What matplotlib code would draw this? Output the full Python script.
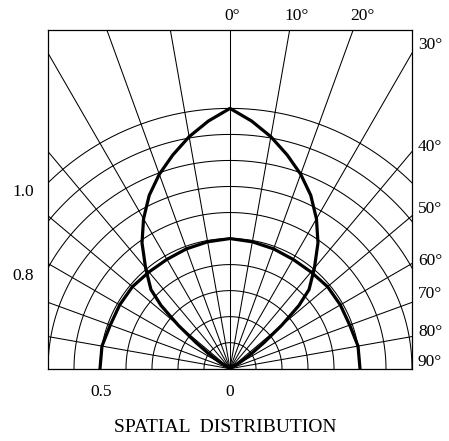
import numpy as np
import matplotlib
matplotlib.use("Agg")
import matplotlib.pyplot as plt

plt.rcParams['font.family'] = ['Liberation Serif', 'DejaVu Serif']

# narrow beam (relative intensity vs angle in degrees)
narrow_deg = [0, 5, 10, 15, 20, 25, 30, 35, 40, 45, 47.5, 50, 52.5, 55, 57.5, 60]
narrow_val = [1.0, 0.955, 0.905, 0.85, 0.795, 0.735, 0.665, 0.59, 0.505, 0.43,
              0.36, 0.26, 0.165, 0.10, 0.05, 0.0]

# wide beam
wide_deg = [0, 10, 20, 30, 40, 50, 60, 70, 80, 90]
wide_val = [0.50, 0.495, 0.49, 0.485, 0.485, 0.49, 0.49, 0.49, 0.50, 0.50]

ring_vals = [0.1, 0.2, 0.3, 0.4, 0.5, 0.6, 0.7, 0.8, 0.9, 1.0]
spoke_deg = list(range(-90, 91, 10))

top_labels = ["0°", "10°", "20°"]
right_labels = ["30°", "40°", "50°", "60°", "70°", "80°", "90°"]


def to_xy(deg, r):
    t = np.radians(np.asarray(deg, dtype=float))
    r = np.asarray(r, dtype=float)
    return r * np.sin(t), r * np.cos(t)


W, H = 449, 441
fig = plt.figure(figsize=(W / 100, H / 100), dpi=100)
ax = fig.add_axes([48 / W, (H - 368.7) / H, 364 / W, 338.4 / H])
ax.set_xlim(-0.7, 0.7)
ax.set_ylim(0, 1.3)
ax.set_xticks([])
ax.set_yticks([])
for s in ax.spines.values():
    s.set_linewidth(0.9)

# grid: arcs and spokes
arc = np.linspace(-90, 90, 400)
for r in ring_vals:
    x, y = to_xy(arc, np.full_like(arc, r))
    ax.plot(x, y, color='black', lw=0.75)
for d in spoke_deg:
    x, y = to_xy([d, d], [0, 3])
    ax.plot(x, y, color='black', lw=0.75)

# curves, mirrored to both sides
for degs, vals in [(narrow_deg, narrow_val), (wide_deg, wide_val)]:
    d = [-a for a in degs[::-1]] + degs[1:]
    v = vals[::-1] + vals[1:]
    x, y = to_xy(d, v)
    ax.plot(x, y, color='black', lw=2.3, solid_joinstyle='round')

# labels (pixel positions)
def ftext(px, py, s, **kw):
    fig.text(px / W, 1 - py / H, s, va='center', fontsize=12.5, **kw)

for s, px in zip(top_labels, [232, 296.5, 362.5]):
    ftext(px, 15.5, s, ha='center')
for s, py in zip(right_labels, [45, 146.7, 209, 260.7, 294.2, 331.7, 362.5]):
    ftext(418, py, s, ha='left')
ftext(23.5, 191.7, "1.0", ha='center')
ftext(23.5, 275.8, "0.8", ha='center')
ftext(100.8, 392.5, "0.5", ha='center')
ftext(230, 392.5, "0", ha='center')
fig.text(225 / W, 1 - 427 / H, "SPATIAL  DISTRIBUTION", ha='center', va='center',
         fontsize=14)

fig.savefig("out.png", dpi=100)
